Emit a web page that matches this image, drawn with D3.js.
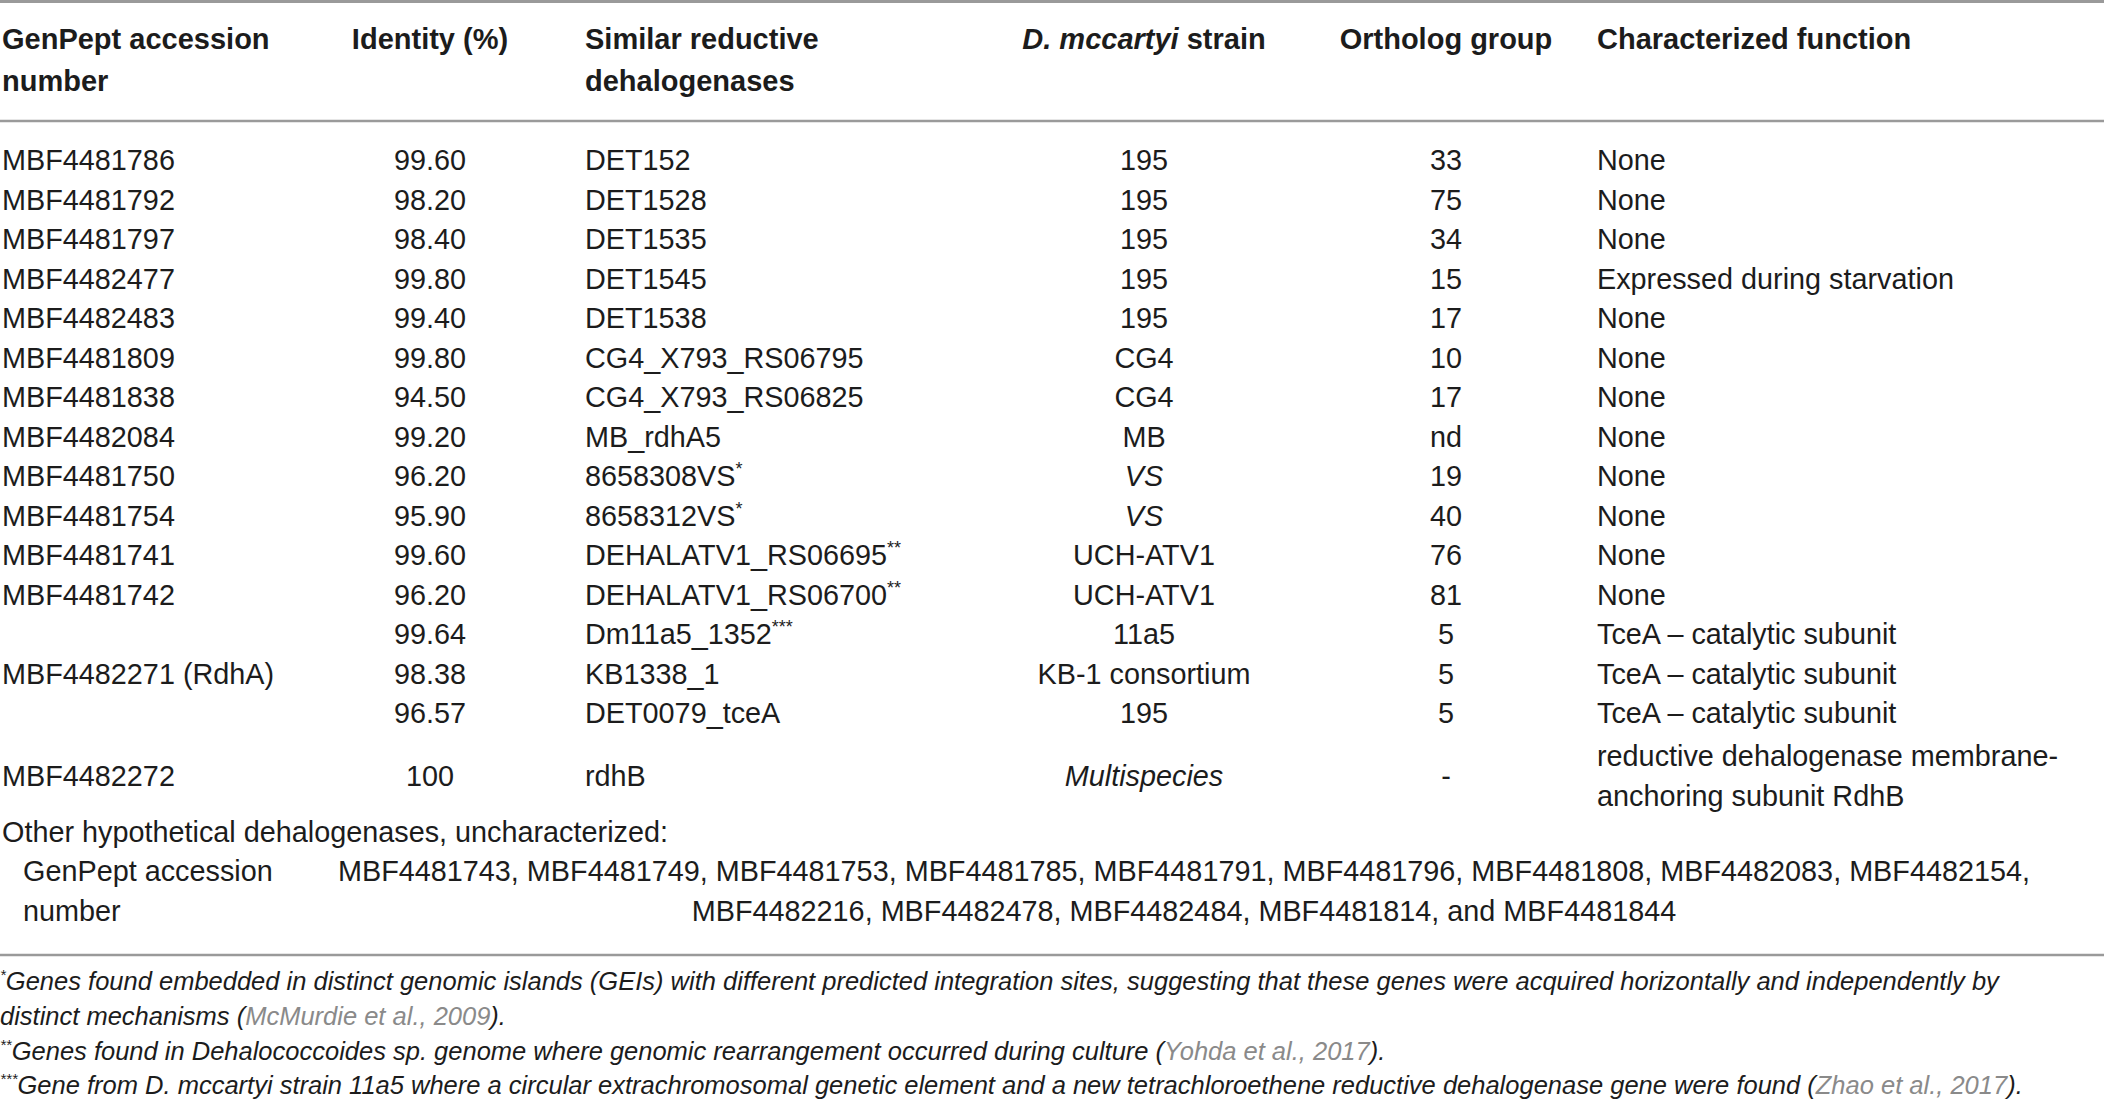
<!DOCTYPE html>
<html>
<head>
<meta charset="utf-8">
<script src="https://cdn.jsdelivr.net/npm/d3@7"></script>
<style>
  body { margin: 0; background: #fff; }
  text { font-family: "Liberation Sans", Arial, sans-serif; fill: #1c1c1c; }
</style>
</head>
<body>
<div id="chart-area"></div>
<script>

// Table data
let accessions = ["MBF4481786", "MBF4481792", "MBF4481797", "MBF4482477", "MBF4482483",
  "MBF4481809", "MBF4481838", "MBF4482084", "MBF4481750", "MBF4481754", "MBF4481741",
  "MBF4481742", "", "MBF4482271 (RdhA)", "", "MBF4482272"];
let identities = ["99.60", "98.20", "98.40", "99.80", "99.40", "99.80", "94.50", "99.20",
  "96.20", "95.90", "99.60", "96.20", "99.64", "98.38", "96.57", "100"];
let similarRdh = ["DET152", "DET1528", "DET1535", "DET1545", "DET1538", "CG4_X793_RS06795",
  "CG4_X793_RS06825", "MB_rdhA5", "8658308VS", "8658312VS", "DEHALATV1_RS06695",
  "DEHALATV1_RS06700", "Dm11a5_1352", "KB1338_1", "DET0079_tceA", "rdhB"];
let noteMarks = ["", "", "", "", "", "", "", "", "*", "*", "**", "**", "***", "", "", ""];
let strains = ["195", "195", "195", "195", "195", "CG4", "CG4", "MB", "VS", "VS",
  "UCH-ATV1", "UCH-ATV1", "11a5", "KB-1 consortium", "195", "Multispecies"];
let orthologs = ["33", "75", "34", "15", "17", "10", "17", "nd", "19", "40", "76", "81",
  "5", "5", "5", "-"];
let functions = [["None"], ["None"], ["None"], ["Expressed during starvation"], ["None"],
  ["None"], ["None"], ["None"], ["None"], ["None"], ["None"], ["None"],
  ["TceA \u2013 catalytic subunit"], ["TceA \u2013 catalytic subunit"], ["TceA \u2013 catalytic subunit"],
  ["reductive dehalogenase membrane-", "anchoring subunit RdhB"]];

let headers = [["GenPept accession", "number"], ["Identity (%)"], ["Similar reductive", "dehalogenases"],
  ["D. mccartyi strain"], ["Ortholog group"], ["Characterized function"]];

let otherTitle = "Other hypothetical dehalogenases, uncharacterized:";
let otherLabel = ["GenPept accession", "number"];
let otherList = ["MBF4481743, MBF4481749, MBF4481753, MBF4481785, MBF4481791, MBF4481796, MBF4481808, MBF4482083, MBF4482154,",
  "MBF4482216, MBF4482478, MBF4482484, MBF4481814, and MBF4481844"];

let footMarks = ["*", "**", "***"];
let footTexts = [
  ["Genes found embedded in distinct genomic islands (GEIs) with different predicted integration sites, suggesting that these genes were acquired horizontally and independently by",
   "distinct mechanisms ("],
  ["Genes found in Dehalococcoides sp. genome where genomic rearrangement occurred during culture ("],
  ["Gene from D. mccartyi strain 11a5 where a circular extrachromosomal genetic element and a new tetrachloroethene reductive dehalogenase gene were found ("]];
let footCites = ["McMurdie et al., 2009", "Yohda et al., 2017", "Zhao et al., 2017"];

// italic strain names
let italicStrains = ["VS", "Multispecies"];

// SVG drawing area
let width = 2104, height = 1119;

let svg = d3.select("#chart-area").append("svg")
  .attr("width", width)
  .attr("height", height);

// column positions (x) and anchors
let cols = [
  {x: 2, anchor: "start"},
  {x: 430, anchor: "middle"},
  {x: 585, anchor: "start"},
  {x: 1144, anchor: "middle"},
  {x: 1446, anchor: "middle"},
  {x: 1597, anchor: "start"}
];

// line grid: line index -> baseline y
let y = d3.scaleLinear()
  .domain([0, 1])
  .range([170, 209.5]);

let fontSize = 28.8;

// rules
function rule(yy, w) {
  svg.append("line")
    .attr("x1", 0).attr("x2", width)
    .attr("y1", yy).attr("y2", yy)
    .attr("stroke", "#9a9a9a")
    .attr("stroke-width", w);
}
rule(1.5, 3);
rule(121, 2.5);
rule(955, 2.5);

// header
let headG = svg.append("g").attr("class", "header");
headers.forEach((lines, c) => {
  lines.forEach((ln, k) => {
    let t = headG.append("text")
      .attr("x", cols[c].x)
      .attr("y", 49 + k * 42)
      .attr("text-anchor", cols[c].anchor)
      .style("font-size", "29px")
      .style("font-weight", "bold");
    if (ln.startsWith("D. mccartyi")) {
      t.append("tspan").style("font-style", "italic").text("D. mccartyi");
      t.append("tspan").text(ln.replace("D. mccartyi", ""));
    } else {
      t.text(ln);
    }
  });
});

// body rows
let rows = accessions.map((a, i) => ({
  acc: a, id: identities[i], rdh: similarRdh[i], mark: noteMarks[i],
  strain: strains[i], orth: orthologs[i], func: functions[i], i: i
}));

function rowLine(d) {
  // last row spans two lines
  return d.func.length > 1 ? d.i + 0.6 : d.i;
}

let rowG = svg.selectAll(".row")
  .data(rows)
  .enter().append("g")
  .attr("class", "row")
  .style("font-size", fontSize + "px");

rowG.append("text")
  .attr("x", cols[0].x)
  .attr("y", d => y(rowLine(d)))
  .text(d => d.acc);

rowG.append("text")
  .attr("x", cols[1].x)
  .attr("y", d => y(rowLine(d)))
  .attr("text-anchor", "middle")
  .text(d => d.id);

let rdhText = rowG.append("text")
  .attr("x", cols[2].x)
  .attr("y", d => y(rowLine(d)));
rdhText.append("tspan").text(d => d.rdh);
rdhText.append("tspan")
  .attr("dy", -11)
  .style("font-size", "18px")
  .text(d => d.mark);

rowG.append("text")
  .attr("x", cols[3].x)
  .attr("y", d => y(rowLine(d)))
  .attr("text-anchor", "middle")
  .style("font-style", d => italicStrains.includes(d.strain) ? "italic" : "normal")
  .text(d => d.strain);

rowG.append("text")
  .attr("x", cols[4].x)
  .attr("y", d => y(rowLine(d)))
  .attr("text-anchor", "middle")
  .text(d => d.orth);

rowG.each(function(d) {
  let g = d3.select(this);
  let start = d.func.length > 1 ? d.i + 0.1 : d.i;
  d.func.forEach((ln, k) => {
    g.append("text")
      .attr("x", cols[5].x)
      .attr("y", y(start + k))
      .text(ln);
  });
});

// other hypothetical dehalogenases
let otherG = svg.append("g").style("font-size", fontSize + "px");
otherG.append("text")
  .attr("x", 2)
  .attr("y", y(17))
  .text(otherTitle);
otherLabel.forEach((ln, k) => {
  otherG.append("text")
    .attr("x", 23)
    .attr("y", y(18 + k))
    .text(ln);
});
otherList.forEach((ln, k) => {
  otherG.append("text")
    .attr("x", 1184)
    .attr("y", y(18 + k))
    .attr("text-anchor", "middle")
    .text(ln);
});

// footnotes
let footY = [[990, 1025], [1060], [1094]];
let footG = svg.append("g")
  .style("font-size", "25.5px")
  .style("font-style", "italic");

footTexts.forEach((lines, f) => {
  lines.forEach((ln, k) => {
    let t = footG.append("text")
      .attr("x", 0)
      .attr("y", footY[f][k]);
    if (k === 0) {
      t.append("tspan").attr("dy", -10).style("font-size", "15px").text(footMarks[f]);
      t.append("tspan").attr("dy", 10).text(ln);
    } else {
      t.text(ln);
    }
    if (k === lines.length - 1) {
      t.append("tspan").style("fill", "#8a8a8a").text(footCites[f]);
      t.append("tspan").text(").");
    }
  });
});

</script>
</body>
</html>
